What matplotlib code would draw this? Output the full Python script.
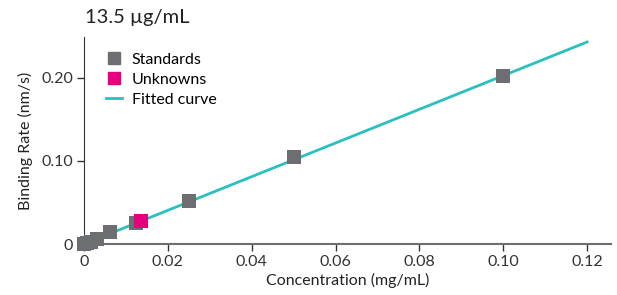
import matplotlib.pyplot as plt
from matplotlib.lines import Line2D

# Standards
std_conc = [0.0, 0.0008, 0.0016, 0.0031, 0.0063, 0.0125, 0.025, 0.05, 0.10]
std_rate = [0.0, 0.001, 0.003, 0.006, 0.014, 0.025, 0.052, 0.105, 0.202]

# Unknowns
unk_conc = [0.0135]
unk_rate = [0.028]

# Fitted curve
fit_conc = [0.0, 0.12]
fit_rate = [0.0, 0.243]

plt.rcParams['font.family'] = ['Lato', 'DejaVu Sans']

fig = plt.figure(figsize=(6.17, 2.95), dpi=100)
ax = fig.add_axes([84/617, 1 - 244/295, 527/617, 207/295])

ax.plot(fit_conc, fit_rate, color='#2bbfbf', lw=2, zorder=2, clip_on=False)
ax.scatter(std_conc, std_rate, marker='s', s=100, color='#6d6e71', zorder=3, clip_on=False, linewidths=0)
ax.scatter(unk_conc, unk_rate, marker='s', s=100, color='#e6007e', zorder=4, clip_on=False, linewidths=0)

ax.set_xlim(0, 0.1257)
ax.set_ylim(0, 0.249)
ax.set_xticks([0, 0.02, 0.04, 0.06, 0.08, 0.10, 0.12])
ax.set_xticklabels(['0', '0.02', '0.04', '0.06', '0.08', '0.10', '0.12'])
ax.set_yticks([0, 0.10, 0.20])
ax.set_yticklabels(['0', '0.10', '0.20'])

for s in ['top', 'right']:
    ax.spines[s].set_visible(False)
ax.spines['left'].set_color('#333333')
ax.spines['bottom'].set_color('#6d6e71')
ax.spines['bottom'].set_linewidth(1.5)
ax.tick_params(direction='out', length=5, width=1, colors='#333333', labelsize=11.5, pad=3)

ax.set_xlabel('Concentration (mg/mL)', fontsize=11.5, color='#222222', labelpad=3)
ax.set_ylabel('Binding Rate (nm/s)', fontsize=11.5, color='#222222', labelpad=6)

fig.text(85/617, 1 - 18/295, '13.5 µg/mL', fontsize=14.5, color='#222222', va='center', ha='left')

handles = [
    Line2D([], [], marker='s', ls='none', color='#6d6e71', markersize=9),
    Line2D([], [], marker='s', ls='none', color='#e6007e', markersize=9),
    Line2D([], [], color='#2bbfbf', lw=2),
]
ax.legend(handles, ['Standards', 'Unknowns', 'Fitted curve'], loc='upper left',
          bbox_to_anchor=(0.03, 0.955), frameon=False, fontsize=11.5,
          handlelength=1.0, handletextpad=0.6, labelspacing=0.36, borderaxespad=0)

fig.savefig('out.png', dpi=100)
